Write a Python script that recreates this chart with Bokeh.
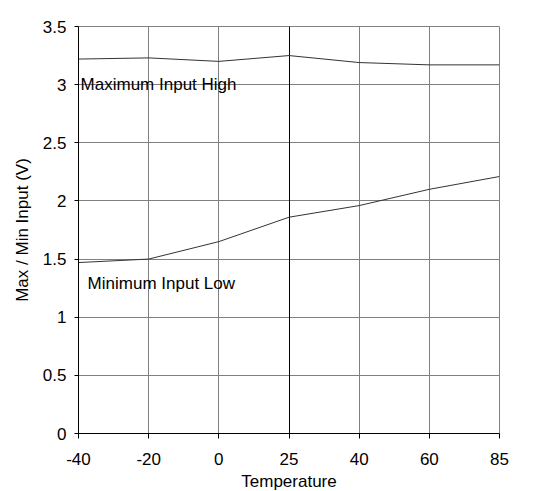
from bokeh.plotting import figure
from bokeh.models import Range1d, FixedTicker, Grid, Label
from bokeh.embed import file_html
from bokeh.resources import INLINE

temps = ["-40", "-20", "0", "25", "40", "60", "85"]
max_high = [3.22, 3.23, 3.20, 3.25, 3.19, 3.17, 3.17]
min_low = [1.47, 1.50, 1.65, 1.86, 1.96, 2.10, 2.21]
y_ticks = [0, 0.5, 1, 1.5, 2, 2.5, 3, 3.5]

xs = list(range(len(temps)))

p = figure(frame_width=421, frame_height=407, output_backend="svg", toolbar_location=None,
           x_range=Range1d(0, len(temps) - 1), y_range=Range1d(0, 3.5),
           min_border_left=78, min_border_right=43, min_border_top=26, min_border_bottom=58)
p.background_fill_color = "white"
p.border_fill_color = "white"
p.outline_line_color = "#808080"
p.outline_line_width = 1

FONT = "Liberation Sans"

p.xaxis.ticker = FixedTicker(ticks=xs)
p.xaxis.major_label_overrides = {i: t for i, t in enumerate(temps)}
p.yaxis.ticker = FixedTicker(ticks=y_ticks)
p.yaxis.major_label_overrides = {0: "0", 0.5: "0.5", 1: "1", 1.5: "1.5", 2: "2", 2.5: "2.5", 3: "3", 3.5: "3.5"}

for ax in (p.xaxis, p.yaxis):
    ax.axis_line_color = "black"
    ax.major_tick_line_color = "black"
    ax.major_tick_in = 0
    ax.minor_tick_line_color = None
    ax.major_label_text_font = FONT
    ax.major_label_text_font_size = "17px"
    ax.major_label_text_color = "black"
    ax.axis_label_text_font = FONT
    ax.axis_label_text_font_size = "17px"
    ax.axis_label_text_font_style = "normal"
    ax.axis_label_text_color = "black"

p.xaxis.major_tick_out = 5
p.yaxis.major_tick_out = 4
p.xaxis.major_label_standoff = 14
p.yaxis.major_label_standoff = 8

p.xaxis.axis_label = "Temperature"
p.xaxis.axis_label_standoff = 4
p.yaxis.axis_label = "Max / Min Input (V)"
p.yaxis.axis_label_standoff = 8

p.xgrid.grid_line_color = "#808080"
p.ygrid.grid_line_color = "#808080"
p.xgrid.grid_line_width = 1
p.ygrid.grid_line_width = 1

p.add_layout(Grid(dimension=0, ticker=FixedTicker(ticks=[3]), grid_line_color="black", grid_line_width=1))

p.line(xs, max_high, line_color="#333333", line_width=1)
p.line(xs, min_low, line_color="#333333", line_width=1)

p.add_layout(Label(x=0.03, y=3.0, text="Maximum Input High", text_font=FONT,
                   text_font_size="17px", text_baseline="middle", text_color="black"))
p.add_layout(Label(x=0.13, y=1.29, text="Minimum Input Low", text_font=FONT,
                   text_font_size="17px", text_baseline="middle", text_color="black"))

open("out.html", "w").write(file_html(p, INLINE))
